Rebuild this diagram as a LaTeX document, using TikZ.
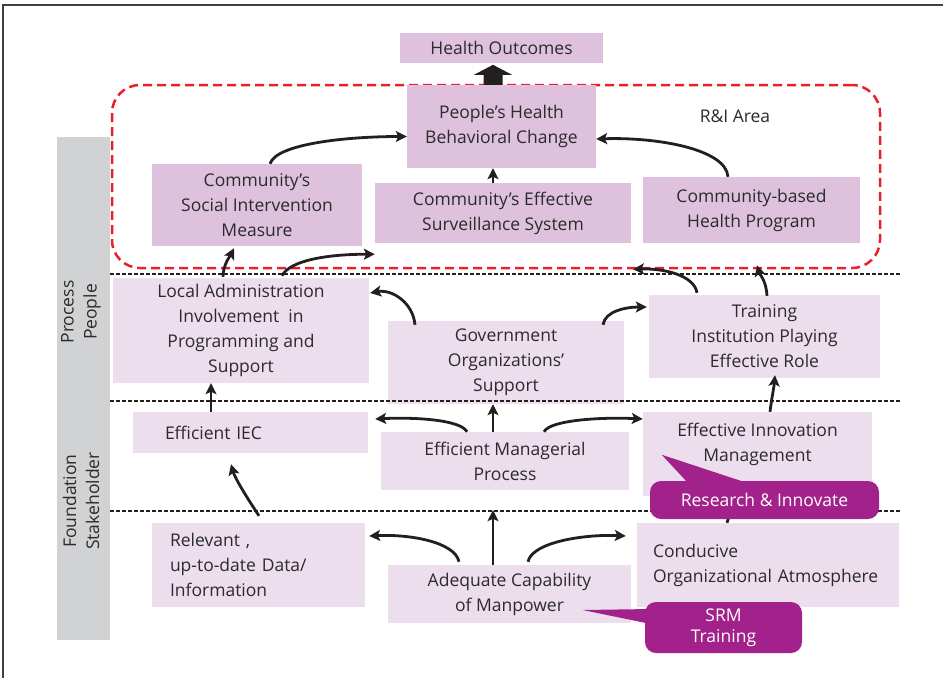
\documentclass[tikz,border=0pt]{standalone}
\usepackage{fontspec}
\setmainfont{Open Sans}
\usetikzlibrary{arrows.meta,calc}
\definecolor{darkbox}{HTML}{DEC1DD}
\definecolor{lightbox}{HTML}{ECDEEC}
\definecolor{callcol}{HTML}{A2218B}
\definecolor{txt}{HTML}{2B2B2B}
\definecolor{redline}{HTML}{E8202A}
\definecolor{barcol}{HTML}{D1D2D4}
\definecolor{ink}{HTML}{231F20}
\begin{document}
\begin{tikzpicture}[x=1pt,y=-1pt,
  every node/.style={font=\fontsize{17.5}{25}\selectfont, text=txt},
  dbox/.style={fill=darkbox, inner sep=0pt, align=center},
  lbox/.style={fill=lightbox, inner sep=0pt, align=center},
  lboxl/.style={fill=lightbox, inner ysep=0pt, align=left},
  conn/.style={line width=2.8pt, draw=ink, -{Stealth[length=11pt,width=11pt,inset=2.5pt]}},
  sepline/.style={dash pattern=on 4pt off 2pt, line width=1.3pt, draw=ink},
  callbox/.style={fill=callcol, rounded corners=11pt, inner sep=0pt, text=white, align=center},
  sidelabel/.style={rotate=90, align=center, font=\fontsize{17.5}{23}\selectfont}
]
\useasboundingbox (0,0) rectangle (943,678);
% frame
\draw[line width=1.3pt, black!75] (3,678) -- (3,5) -- (943,5);
% side bar
\fill[barcol] (57,137) rectangle (110,640);
\node[sidelabel] (pp) at (81,312) {Process\\People};
\node[sidelabel] (fs) at (81,501) {Foundation\\Stakeholder};

% R&I area
\node[draw=redline, line width=2.5pt, dash pattern=on 9pt off 5pt, rounded corners=28pt,
      minimum width=768pt, minimum height=183pt, inner sep=0pt] (ri) at (496,176.5) {};
\node (rilab) at (735,116) {R\&I Area};

% top boxes
\node[dbox, minimum width=203pt, minimum height=30pt] (ho) at (501.5,48) {Health Outcomes};
\node[dbox, minimum width=189pt, minimum height=83pt] (pe) at (501.5,126.5) {People's Health\\Behavioral Change};
\node[dbox, minimum width=210pt, minimum height=82pt] (soc) at (257,205) {Community's\\Social Intervention\\Measure};
\node[dbox, minimum width=256pt, minimum height=60pt] (sur) at (503,213) {Community's Effective\\Surveillance System};
\node[dbox, minimum width=217pt, minimum height=66pt] (cb) at (751.5,210) {Community-based\\Health Program};

% process row
\node[lbox, minimum width=256pt, minimum height=105pt] (la) at (241,330.5) {Local Administration\\Involvement\ \ in\\Programming and\\Support};
\node[lbox, minimum width=236pt, minimum height=83pt] (gov) at (506,362.5) {Government\\Organizations'\\Support};
\node[lbox, minimum width=231pt, minimum height=83pt] (tr) at (764.5,336.5) {Training\\Institution Playing\\Effective Role};

% foundation upper row
\node[lboxl, minimum height=41pt, text width=171pt, inner xsep=32pt] (iec) at (250.5,432.5) {Efficient IEC};
\node[lbox, minimum width=248pt, minimum height=58pt] (mp) at (505,461) {Efficient Managerial\\Process};
\node[lbox, minimum width=229pt, minimum height=84pt] (inn) at (757.5,454) {};
\node (innT) at (757.5,444) [align=center] {Effective Innovation\\Management};

% foundation lower row
\node[lboxl, minimum height=84pt, text width=177pt, inner xsep=18pt] (rel) at (258.5,565) {Relevant ,\\up-to-date Data/\\Information};
\node[lbox, minimum width=243pt, minimum height=58pt] (adq) at (509.5,594) {Adequate Capability\\of Manpower};
\node[lboxl, minimum height=84pt, text width=230pt, inner xsep=16pt] (con) at (768,565) {Conducive\\Organizational~Atmosphere};

% separators
\draw[sepline] (110,274) -- (900,274);
\draw[sepline] (110,401) -- (900,401);
\draw[sepline] (110,511) -- (900,511);

% block arrow to Health Outcomes
\fill[ink] ($(pe.north)+(-18,0)$) -- ($(pe.north)+(-18,-10)$) -- ($(pe.north)+(-27.5,-10)$)
  -- ($(pe.north)+(-8.5,-20)$) -- ($(pe.north)+(10.5,-10)$) -- ($(pe.north)+(1,-10)$)
  -- ($(pe.north)+(1,0)$) -- cycle;

% connectors
\draw[conn] ($(soc.north)+(13,0)$) .. controls +(6,-20) and +(-60,0) .. ($(pe.west)+(0,10)$);
\draw[conn] ($(cb.north)+(-23.5,0)$) .. controls +(-2,-28) and +(60,-2) .. ($(pe.east)+(0,12.5)$);
\draw[conn] ($(sur.north)+(-10,0)$) -- ($(pe.south)+(-8.5,0)$);

\draw[conn] ($(la.north)+(-18,-1)$) .. controls +(0,-12) and +(-4,8) .. ($(soc.south)+(-23,2)$);
\draw[conn] ($(la.north)+(41,-2)$) .. controls +(8,-16) and +(-45,0) .. ($(sur.south west)+(0,11)$);
\draw[conn] ($(gov.north)+(-91,4)$) .. controls +(-2,-22) and +(22,-4) .. ($(la.east)+(1,-37.5)$);
\draw[conn] ($(gov.north)+(97,4)$) .. controls +(2,-14) and +(-20,0) .. ($(tr.west)+(-2,-29.5)$);
\draw[conn] ($(tr.north)+(-67.5,-2)$) .. controls +(-3,-18) and +(30,-1) .. ($(ri.south)+(137,0)$);
\draw[conn] ($(tr.north)+(2.5,1)$) .. controls +(-1,-16) and +(3,10) .. ($(ri.south)+(261,-4)$);

\draw[conn] ($(iec.north)+(-39.5,0)$) -- ($(la.south)+(-30,0)$);
\draw[conn] ($(mp.north)+(-12,0)$) -- ($(gov.south)+(-13,0)$);
\draw[conn] ($(mp.north)+(-38,0)$) .. controls +(-6,-12) and +(40,-2) .. ($(iec.east)+(7,-13.5)$);
\draw[conn] ($(mp.north)+(39,0)$) .. controls +(6,-12) and +(-40,-2) .. ($(inn.west)+(0,-35)$);
\draw[conn] ($(inn.north)+(12.5,0)$) .. controls +(2,-16) and +(-1,12) .. ($(tr.south)+(10.5,-3)$);

\draw[conn] ($(rel.north)+(0.5,-7)$) .. controls +(-12,-18) and +(4,14) .. ($(iec.south)+(-19.5,11)$);
\draw[conn] ($(adq.north)+(-50.5,-3)$) .. controls +(-4,-20) and +(40,-2) .. ($(rel.east)+(4,-29)$);
\draw[conn] ($(adq.north)+(-16.5,0)$) -- ($(mp.south)+(-12,20)$);
\draw[conn] ($(adq.north)+(18.5,-3)$) .. controls +(4,-20) and +(-40,-2) .. ($(con.west)+(-11,-29)$);
\draw[conn] ($(con.north)+(-41,0)$) -- ($(inn.south)+(-22,0)$);

% callouts
\node[callbox, minimum width=229pt, minimum height=38pt] (rsc) at (764.5,500) {Research \& Innovate};
\fill[callcol] ($(rsc.north west)+(38,2)$) -- ($(rsc.north west)+(12,-26)$) -- ($(rsc.north west)+(97,2)$) -- cycle;
\node[callbox, minimum width=157pt, minimum height=51pt, font=\fontsize{17.5}{21}\selectfont] (srm) at (723.5,627.5) {SRM\\Training};
\fill[callcol] ($(srm.west)+(7,-18.5)$) -- ($(srm.west)+(-62,-17.5)$) -- ($(srm.west)+(1,-4.5)$) -- cycle;
\end{tikzpicture}
\end{document}
